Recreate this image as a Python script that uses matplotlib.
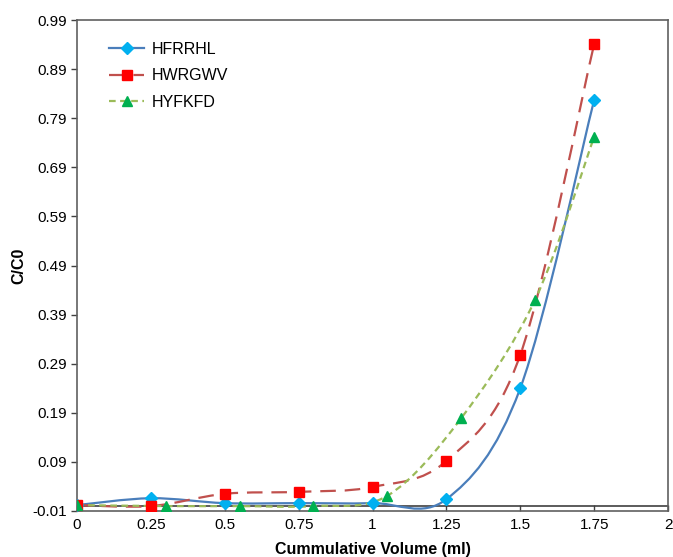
import numpy as np
import matplotlib.pyplot as plt
from matplotlib.path import Path
from matplotlib.patches import PathPatch

plt.rcParams['font.family'] = ['Liberation Sans Narrow', 'Liberation Sans', 'DejaVu Sans']

series = ['HFRRHL', 'HWRGWV', 'HYFKFD']
x_hfrrhl = [0, 0.25, 0.5, 0.75, 1.0, 1.25, 1.5, 1.75]
y_hfrrhl = [0.002, 0.016, 0.006, 0.006, 0.006, 0.014, 0.240, 0.827]
x_hwrgwv = [0, 0.25, 0.5, 0.75, 1.0, 1.25, 1.5, 1.75]
y_hwrgwv = [0.002, 0.000, 0.025, 0.029, 0.039, 0.092, 0.308, 0.941]
x_hyfkfd = [0, 0.3, 0.55, 0.8, 1.05, 1.3, 1.55, 1.75]
y_hyfkfd = [0.002, 0.000, 0.000, 0.000, 0.021, 0.179, 0.420, 0.752]

xticks = [0, 0.25, 0.5, 0.75, 1, 1.25, 1.5, 1.75, 2]
xtick_labels = ['0', '0.25', '0.5', '0.75', '1', '1.25', '1.5', '1.75', '2']
yticks = [-0.01, 0.09, 0.19, 0.29, 0.39, 0.49, 0.59, 0.69, 0.79, 0.89, 0.99]


def smooth_path(xs, ys):
    # Excel style smoothed line: Catmull-Rom segments as cubic Beziers
    p = np.column_stack([xs, ys])
    verts = [p[0]]
    codes = [Path.MOVETO]
    n = len(p)
    for i in range(n - 1):
        p0 = p[i - 1] if i > 0 else p[i]
        p3 = p[i + 2] if i + 2 < n else p[i + 1]
        c1 = p[i] + (p[i + 1] - p0) / 6
        c2 = p[i + 1] - (p3 - p[i]) / 6
        verts += [c1, c2, p[i + 1]]
        codes += [Path.CURVE4] * 3
    return Path(verts, codes)


fig = plt.figure(figsize=(6.73, 5.57), dpi=100)
ax = fig.add_axes([0.1144, 0.0826, 0.8782, 0.8814])

styles = [
    (x_hfrrhl, y_hfrrhl, '#4a7ebb', '-', 'D', '#00b0f0', 6),
    (x_hwrgwv, y_hwrgwv, '#c0504d', (0, (7, 4)), 's', '#ff0000', 6.5),
    (x_hyfkfd, y_hyfkfd, '#9bbb59', (0, (3, 2)), '^', '#00b050', 7),
]
for name, (xs, ys, lc, ls, mk, mc, ms) in zip(series, styles):
    patch = PathPatch(smooth_path(xs, ys), facecolor='none', edgecolor=lc,
                      linestyle=ls, linewidth=1.6, zorder=2)
    ax.add_patch(patch)
    ax.plot(xs, ys, linestyle='none', marker=mk, markersize=ms, color=mc,
            markeredgecolor=mc, zorder=3)
    ax.plot([], [], color=lc, linestyle=ls, linewidth=1.6, marker=mk,
            markersize=ms, markerfacecolor=mc, markeredgecolor=mc, label=name)

ax.axhline(0, color='#404040', linewidth=1.2, zorder=1)

ax.set_xlim(0, 2)
ax.set_ylim(-0.01, 0.99)
ax.set_xticks(xticks)
ax.set_xticklabels(xtick_labels)
ax.set_yticks(yticks)
ax.set_yticklabels(['%.2f' % v for v in yticks])
ax.tick_params(axis='x', direction='in', length=4, width=1, colors='#404040',
               labelcolor='black', labelsize=11, pad=5)
ax.tick_params(axis='y', direction='out', length=4, width=1, colors='#404040',
               labelcolor='black', labelsize=11)
for s in ax.spines.values():
    s.set_color('#606060')
    s.set_linewidth(1.2)

ax.set_xlabel('Cummulative Volume (ml)', fontsize=11.5, fontweight='bold', labelpad=7)
ax.set_ylabel('C/C0', fontsize=11.5, fontweight='bold', labelpad=4)

ax.legend(loc='upper left', bbox_to_anchor=(0.03, 0.985), frameon=False,
          fontsize=11.5, handlelength=2.2, labelspacing=0.72, handletextpad=0.45)

fig.savefig('out.png', dpi=100)
